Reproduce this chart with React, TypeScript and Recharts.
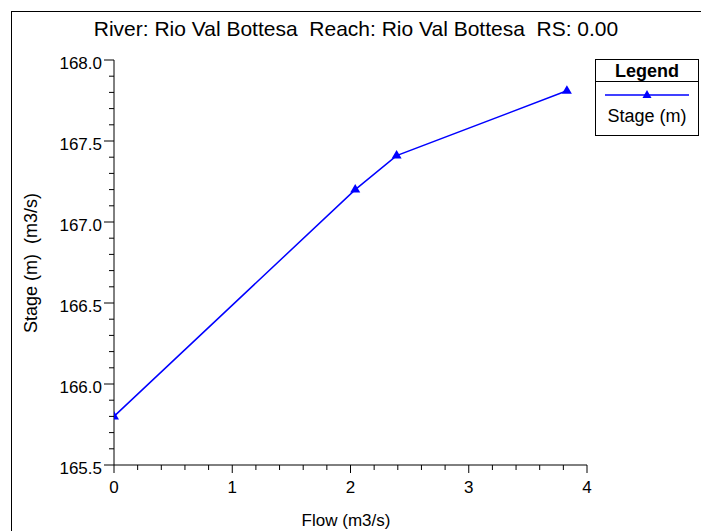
import { LineChart, Line, XAxis, YAxis, Legend } from 'recharts'

const title = 'River: Rio Val Bottesa  Reach: Rio Val Bottesa  RS: 0.00'
const xTitle = 'Flow (m3/s)'
const yTitle = 'Stage (m)  (m3/s)'
const seriesName = 'Stage (m)'

const flow = [0, 2.04, 2.39, 3.83]
const stage = [165.8, 167.2, 167.41, 167.81]

const xTickLabels = [0, 1, 2, 3, 4]
const yTickLabels = [165.5, 166.0, 166.5, 167.0, 167.5, 168.0]

const data = flow.map((f, i) => ({ flow: f, stage: stage[i] }))

// minor ticks: every 0.2 on x, every 0.1 on y
const xTicks = Array.from({ length: 21 }, (_, i) => Math.round(i * 2) / 10)
const yTicks = Array.from({ length: 26 }, (_, i) => Math.round(1655 + i) / 10)

const FONT = '"Liberation Sans", Arial, Helvetica, sans-serif'
const BLUE = '#0000ff'

const isLabel = (list: number[], v: number) => list.some(t => Math.abs(t - v) < 1e-6)

function XTick({ x, y, payload }: any) {
  const major = isLabel(xTickLabels, payload.value)
  return (
    <g>
      <line x1={x} x2={x} y1={y} y2={y + (major ? 8 : 5)} stroke="#000" />
      {major && (
        <text x={x} y={y + 28} textAnchor="middle" fontSize={17} fontFamily={FONT} fill="#000">
          {payload.value}
        </text>
      )}
    </g>
  )
}

function YTick({ x, y, payload }: any) {
  const major = isLabel(yTickLabels, payload.value)
  return (
    <g>
      <line x1={x - (major ? 10 : 5)} x2={x} y1={y} y2={y} stroke="#000" />
      {major && (
        <text x={x - 12} y={y + 9} textAnchor="end" fontSize={17} fontFamily={FONT} fill="#000">
          {payload.value.toFixed(1)}
        </text>
      )}
    </g>
  )
}

function Triangle({ cx, cy, index }: any) {
  return <path key={index} d={`M${cx},${cy - 5.5} L${cx + 5},${cy + 3} L${cx - 5},${cy + 3} Z`} fill={BLUE} />
}

function LegendBox() {
  return (
    <div style={{ border: '1px solid #000', width: 102, height: 75, background: '#fff', fontFamily: FONT, color: '#000' }}>
      <div style={{ height: 21, lineHeight: '22px', borderBottom: '1px solid #000', textAlign: 'center', fontWeight: 'bold', fontSize: 18 }}>
        Legend
      </div>
      <svg width={102} height={22} style={{ display: 'block' }}>
        <line x1={9} x2={93} y1={13} y2={13} stroke={BLUE} strokeWidth={1.5} />
        <path d="M51,8 L55.5,16 L46.5,16 Z" fill={BLUE} />
      </svg>
      <div style={{ textAlign: 'center', fontSize: 18, lineHeight: '24px' }}>{seriesName}</div>
    </div>
  )
}

export default function App() {
  return (
    <div style={{ position: 'absolute', left: 0, top: 0, width: 701, height: 531, overflow: 'hidden', background: '#fff', fontFamily: FONT }}>
      <div style={{ position: 'absolute', left: 11, top: 11, width: 720, height: 560, border: '1px solid #000' }} />
      <div style={{ position: 'absolute', left: 356, top: 29, transform: 'translate(-50%, -50%)', whiteSpace: 'pre', fontSize: 21 }}>
        {title}
      </div>
      <div style={{ position: 'absolute', left: 31, top: 263, transform: 'translate(-50%, -50%) rotate(-90deg)', whiteSpace: 'pre', fontSize: 18 }}>
        {yTitle}
      </div>
      <div style={{ position: 'absolute', left: 346, top: 521, transform: 'translate(-50%, -50%)', whiteSpace: 'pre', fontSize: 17 }}>
        {xTitle}
      </div>
      <LineChart
        width={701}
        height={531}
        data={data}
        margin={{ top: 60, right: 114, bottom: 36, left: 54 }}
        style={{ position: 'absolute', left: 0, top: 0 }}
      >
        <XAxis
          type="number"
          dataKey="flow"
          domain={[0, 4]}
          ticks={xTicks}
          interval={0}
          tick={<XTick />}
          tickLine={false}
          tickSize={0}
          tickMargin={0}
          axisLine={{ stroke: '#000' }}
          height={30}
          allowDataOverflow
        />
        <YAxis
          type="number"
          domain={[165.5, 168]}
          ticks={yTicks}
          interval={0}
          tick={<YTick />}
          tickLine={false}
          tickSize={0}
          tickMargin={0}
          axisLine={{ stroke: '#000' }}
          width={60}
          allowDataOverflow
        />
        <Legend
          layout="horizontal"
          verticalAlign="middle"
          align="center"
          content={<LegendBox />}
          wrapperStyle={{ left: 595, top: 59, width: 104, height: 77 }}
        />
        <Line
          type="linear"
          dataKey="stage"
          name={seriesName}
          stroke={BLUE}
          strokeWidth={1.5}
          dot={(p: any) => <Triangle key={p.index} {...p} />}
          activeDot={false}
          isAnimationActive={false}
        />
      </LineChart>
    </div>
  )
}
